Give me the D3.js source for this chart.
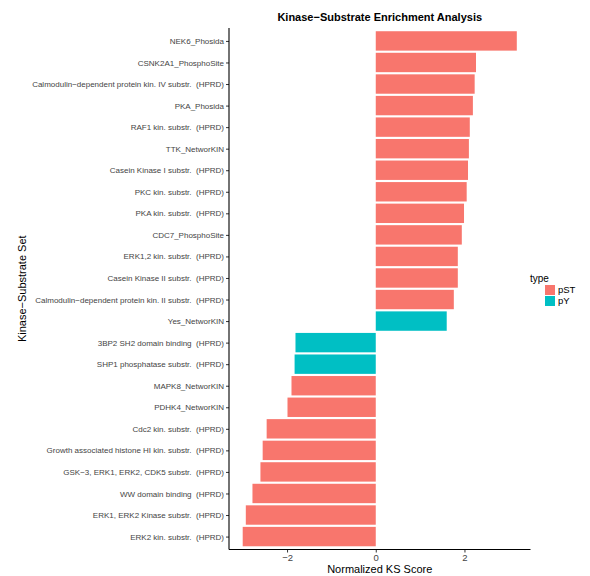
<!DOCTYPE html>
<html>
<head>
<meta charset="utf-8">
<script src="https://cdn.jsdelivr.net/npm/d3@7"></script>
<style>
  body { margin: 0; background: #fff; }
  text { font-family: "Liberation Sans", Arial, sans-serif; }
</style>
</head>
<body>
<div id="chart"></div>
<script>
// Kinase-substrate sets, top to bottom
let sets = [
    "NEK6_Phosida",
    "CSNK2A1_PhosphoSite",
    "Calmodulin\u2212dependent protein kin. IV substr.  (HPRD)",
    "PKA_Phosida",
    "RAF1 kin. substr.  (HPRD)",
    "TTK_NetworKIN",
    "Casein Kinase I substr.  (HPRD)",
    "PKC kin. substr.  (HPRD)",
    "PKA kin. substr.  (HPRD)",
    "CDC7_PhosphoSite",
    "ERK1,2 kin. substr.  (HPRD)",
    "Casein Kinase II substr.  (HPRD)",
    "Calmodulin\u2212dependent protein kin. II substr.  (HPRD)",
    "Yes_NetworKIN",
    "3BP2 SH2 domain binding  (HPRD)",
    "SHP1 phosphatase substr.  (HPRD)",
    "MAPK8_NetworKIN",
    "PDHK4_NetworKIN",
    "Cdc2 kin. substr.  (HPRD)",
    "Growth associated histone HI kin. substr.  (HPRD)",
    "GSK\u22123, ERK1, ERK2, CDK5 substr.  (HPRD)",
    "WW domain binding  (HPRD)",
    "ERK1, ERK2 Kinase substr.  (HPRD)",
    "ERK2 kin. substr.  (HPRD)"
];
let scores = [3.18, 2.26, 2.23, 2.19, 2.12, 2.10, 2.08, 2.05, 1.99, 1.94, 1.85, 1.85,
    1.76, 1.60, -1.81, -1.83, -1.90, -1.99, -2.46, -2.55, -2.60, -2.78, -2.93, -3.00];
let types = ["pST", "pST", "pST", "pST", "pST", "pST", "pST", "pST", "pST", "pST", "pST", "pST",
    "pST", "pY", "pY", "pY", "pST", "pST", "pST", "pST", "pST", "pST", "pST", "pST"];
let typeLevels = ["pST", "pY"];
let xTicks = [-2, 0, 2];

let data = sets.map((s, i) => ({set: s, score: scores[i], type: types[i]}));

let width = 590, height = 576;
let margin = {top: 28, right: 60, bottom: 26, left: 229};
let plot_w = 530.5 - margin.left, plot_h = 549.5 - margin.top;

let svg = d3.select("#chart")
    .append("svg")
    .attr("width", width)
    .attr("height", height);

let g = svg.append("g")
    .attr("transform", `translate(${margin.left}, ${margin.top})`);

// ggplot-style 5% expansion on continuous axis
let lo = d3.min(scores), hi = d3.max(scores);
let pad = (hi - lo) * 0.05;
let x = d3.scaleLinear()
    .domain([lo - pad, hi + pad])
    .range([0, plot_w]);

// discrete axis: 0.6 unit padding each side, bar width 0.9
let step = plot_h / (sets.length - 1 + 1.2);
let y = d3.scalePoint()
    .domain(sets)
    .range([0.6 * step, plot_h - 0.6 * step]);

let color = d3.scaleOrdinal()
    .domain(typeLevels)
    .range(["#F8766D", "#00BFC4"]);

// bars
g.append("g")
    .selectAll("rect")
    .data(data)
    .enter().append("rect")
    .attr("x", d => x(Math.min(0, d.score)))
    .attr("y", d => y(d.set) - 0.45 * step)
    .attr("width", d => Math.abs(x(d.score) - x(0)))
    .attr("height", 0.9 * step)
    .attr("fill", d => color(d.type));

// y axis
let yAxis = g.append("g")
    .call(d3.axisLeft(y).tickSize(3).tickPadding(2).tickSizeOuter(0));
yAxis.select(".domain").remove();
yAxis.selectAll(".tick line").attr("stroke", "#333");
yAxis.selectAll(".tick text")
    .attr("fill", "#444")
    .style("font-size", "8px")
    .style("white-space", "pre");

// x axis
let xAxis = g.append("g")
    .attr("transform", `translate(0, ${plot_h})`)
    .call(d3.axisBottom(x).tickValues(xTicks).tickSize(3).tickPadding(2)
        .tickSizeOuter(0).tickFormat(d => d < 0 ? "\u2212" + Math.abs(d) : d));
xAxis.select(".domain").remove();
xAxis.selectAll(".tick line").attr("stroke", "#333");
xAxis.selectAll(".tick text")
    .attr("fill", "#444")
    .style("font-size", "9.5px");

// axis lines spanning the whole panel
g.append("line")
    .attr("x1", 0).attr("x2", 0)
    .attr("y1", 0).attr("y2", plot_h)
    .attr("stroke", "#000").attr("stroke-width", 1.1);
g.append("line")
    .attr("x1", 0).attr("x2", plot_w)
    .attr("y1", plot_h).attr("y2", plot_h)
    .attr("stroke", "#000").attr("stroke-width", 1.1);

// axis titles
svg.append("text")
    .attr("x", margin.left + plot_w / 2)
    .attr("y", 573)
    .style("text-anchor", "middle")
    .style("font-size", "11px")
    .text("Normalized KS Score");

svg.append("text")
    .attr("transform", `translate(26, ${margin.top + plot_h / 2}) rotate(-90)`)
    .style("text-anchor", "middle")
    .style("font-size", "11px")
    .text("Kinase\u2212Substrate Set");

// chart title
svg.append("text")
    .attr("x", margin.left + plot_w / 2)
    .attr("y", 21)
    .style("text-anchor", "middle")
    .style("font-size", "11px")
    .style("font-weight", "bold")
    .text("Kinase\u2212Substrate Enrichment Analysis");

// legend
let legend = svg.append("g")
    .attr("transform", "translate(545, 273)");
legend.append("text")
    .attr("x", -15)
    .attr("y", 9)
    .style("font-size", "10px")
    .text("type");
let items = legend.selectAll(".legend")
    .data(typeLevels)
    .enter().append("g")
    .attr("class", "legend")
    .attr("transform", (d, i) => `translate(0, ${12 + i * 11})`);
items.append("rect")
    .attr("width", 10)
    .attr("height", 10)
    .attr("fill", d => color(d));
items.append("text")
    .attr("x", 13)
    .attr("y", 5)
    .attr("dy", ".35em")
    .style("font-size", "9.5px")
    .text(d => d);
</script>
</body>
</html>
